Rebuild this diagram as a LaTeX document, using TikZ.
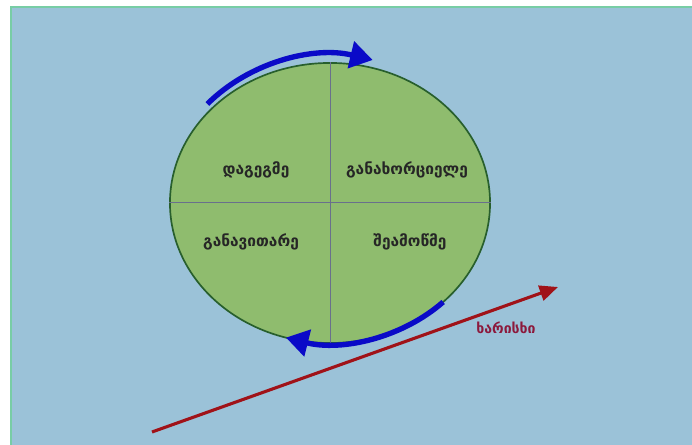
\documentclass[tikz,border=0pt]{standalone}
\usepackage{fontspec}
\setmainfont{DejaVu Sans}
\usepackage{xcolor}
\usepackage{tikz}
\usetikzlibrary{arrows.meta,positioning,calc,shapes.geometric}

\definecolor{bgblue}{RGB}{155,194,216}
\definecolor{bgedge}{RGB}{120,205,165}
\definecolor{leafgreen}{RGB}{143,188,110}
\definecolor{darkleaf}{RGB}{40,95,45}
\definecolor{divgray}{RGB}{105,112,140}
\definecolor{cycblue}{RGB}{10,10,200}
\definecolor{qualred}{RGB}{160,18,24}
\definecolor{labred}{RGB}{140,25,60}

\begin{document}
\begin{tikzpicture}[
  x=0.025cm,y=0.025cm,
  phase/.style={font=\bfseries\fontsize{11}{13}\selectfont,text=black!85},
  cyclearr/.style={cycblue,line width=3.8pt,-{Triangle[length=16pt,width=19pt]}},
]
\useasboundingbox (0,0) rectangle (692,445);
\fill[bgblue] (11,0) rectangle (692,438);
\draw[bgedge,line width=1pt] (11,0) -- (11,438) -- (692,438);

% the cycle
\node[ellipse,draw=darkleaf,fill=leafgreen,line width=1.2pt,
  minimum width=8cm,minimum height=7cm,inner sep=0pt] (cyc) at (330,242) {};
\draw[divgray,line width=0.7pt] (cyc.north) -- (cyc.south);
\draw[divgray,line width=0.7pt] (cyc.west) -- (cyc.east);

\node[phase] (plan) at (256,275) {დაგეგმე};
\node[phase] (do) at (407,275) {განახორციელე};
\node[phase] (act) at (251,203) {განავითარე};
\node[phase] (check) at (410,203) {შეამოწმე};

% arrows round the cycle
\draw[cyclearr] ($(cyc.center)+(138:165 and 148)$) arc[start angle=138,end angle=75,x radius=165,y radius=148];
\draw[cyclearr] ($(cyc.center)+(-45:160 and 140)$) arc[start angle=-45,end angle=-106,x radius=160,y radius=140];

% quality
\coordinate (qs) at (152,13);
\coordinate (qe) at (558,158);
\draw[qualred,line width=2.2pt,-{Triangle[length=13pt,width=11pt]}] (qs) -- (qe);
\node[text=labred,font=\bfseries\fontsize{10}{12}\selectfont] (qual) at (506,117) {ხარისხი};
\end{tikzpicture}
\end{document}
